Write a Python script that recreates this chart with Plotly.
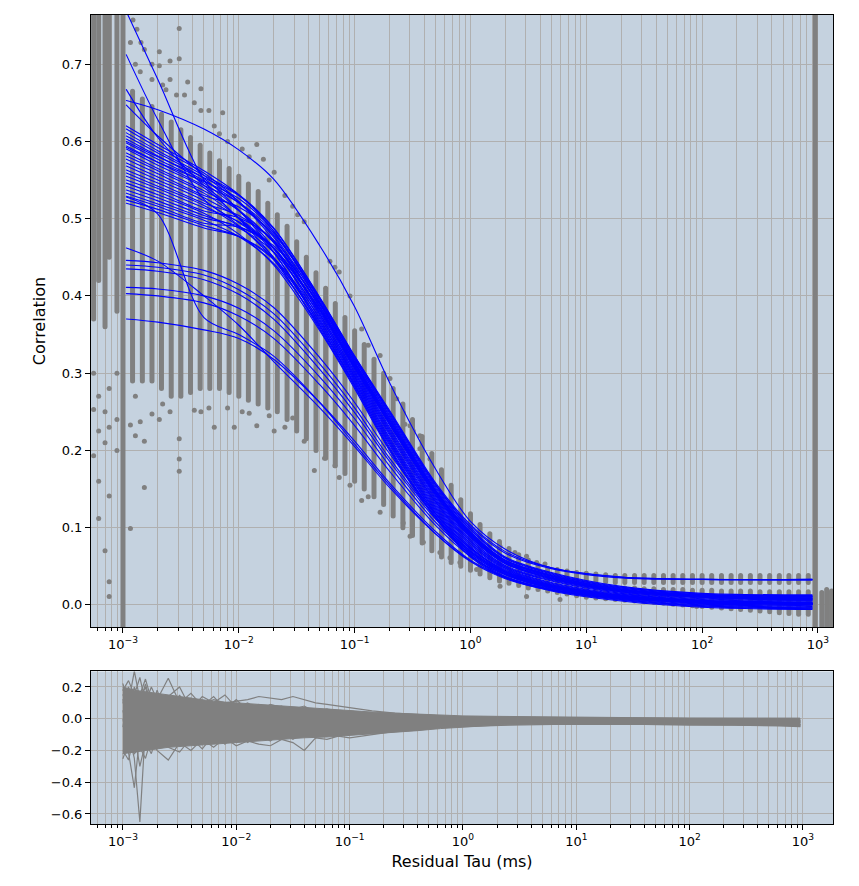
import plotly.graph_objects as go

# ---------------- data ----------------
# fitted model curves, sampled at these lag times (ms)
FIT_TAU = [1.07e-3, 2e-3, 5e-3, 1e-2, 2e-2, 5e-2, 0.1, 0.2, 0.5, 1, 2, 5, 20, 100, 890]

FIT_MAIN = [
    [0.620, 0.596, 0.562, 0.531, 0.484, 0.391, 0.315, 0.241, 0.148, 0.093, 0.057, 0.038, 0.021, 0.012, 0.010],
    [0.616, 0.592, 0.559, 0.522, 0.472, 0.377, 0.302, 0.226, 0.134, 0.082, 0.049, 0.031, 0.015, 0.006, 0.004],
    [0.611, 0.588, 0.556, 0.531, 0.488, 0.398, 0.322, 0.250, 0.155, 0.100, 0.062, 0.042, 0.024, 0.015, 0.013],
    [0.607, 0.585, 0.552, 0.511, 0.457, 0.362, 0.287, 0.209, 0.119, 0.069, 0.040, 0.022, 0.008, 0.000, -0.003],
    [0.603, 0.581, 0.549, 0.520, 0.476, 0.385, 0.309, 0.235, 0.142, 0.088, 0.054, 0.035, 0.018, 0.010, 0.007],
    [0.598, 0.577, 0.546, 0.511, 0.462, 0.370, 0.295, 0.217, 0.127, 0.075, 0.044, 0.026, 0.012, 0.003, 0.001],
    [0.594, 0.573, 0.543, 0.521, 0.482, 0.394, 0.318, 0.246, 0.151, 0.097, 0.060, 0.040, 0.022, 0.013, 0.011],
    [0.590, 0.569, 0.540, 0.500, 0.449, 0.357, 0.282, 0.202, 0.114, 0.064, 0.036, 0.019, 0.006, -0.002, -0.005],
    [0.585, 0.565, 0.536, 0.511, 0.469, 0.381, 0.306, 0.230, 0.138, 0.085, 0.051, 0.033, 0.017, 0.008, 0.006],
    [0.581, 0.562, 0.533, 0.501, 0.456, 0.366, 0.291, 0.213, 0.123, 0.072, 0.042, 0.024, 0.010, 0.002, -0.001],
    [0.577, 0.558, 0.530, 0.515, 0.480, 0.396, 0.320, 0.248, 0.153, 0.098, 0.061, 0.041, 0.023, 0.014, 0.012],
    [0.572, 0.554, 0.527, 0.501, 0.461, 0.374, 0.298, 0.222, 0.131, 0.079, 0.047, 0.028, 0.013, 0.005, 0.002],
    [0.568, 0.550, 0.523, 0.491, 0.447, 0.359, 0.284, 0.204, 0.116, 0.065, 0.037, 0.020, 0.007, -0.001, -0.004],
    [0.563, 0.546, 0.520, 0.504, 0.470, 0.387, 0.311, 0.237, 0.144, 0.090, 0.055, 0.036, 0.019, 0.010, 0.008],
    [0.559, 0.542, 0.517, 0.490, 0.450, 0.364, 0.289, 0.211, 0.121, 0.070, 0.041, 0.023, 0.009, 0.001, -0.002],
    [0.555, 0.539, 0.514, 0.496, 0.462, 0.379, 0.304, 0.228, 0.136, 0.083, 0.050, 0.032, 0.016, 0.007, 0.005],
    [0.550, 0.535, 0.510, 0.501, 0.472, 0.392, 0.317, 0.244, 0.149, 0.095, 0.058, 0.039, 0.022, 0.013, 0.011],
    [0.546, 0.531, 0.507, 0.480, 0.440, 0.355, 0.280, 0.200, 0.112, 0.062, 0.035, 0.018, 0.005, -0.003, -0.006],
    [0.542, 0.527, 0.504, 0.488, 0.457, 0.376, 0.300, 0.224, 0.133, 0.080, 0.048, 0.029, 0.014, 0.006, 0.003],
    [0.537, 0.523, 0.501, 0.490, 0.462, 0.383, 0.307, 0.233, 0.140, 0.087, 0.053, 0.034, 0.017, 0.009, 0.006],
    [0.533, 0.519, 0.498, 0.477, 0.442, 0.361, 0.285, 0.207, 0.118, 0.067, 0.039, 0.021, 0.007, -0.001, -0.004],
    [0.529, 0.516, 0.494, 0.489, 0.465, 0.389, 0.313, 0.239, 0.146, 0.092, 0.056, 0.037, 0.020, 0.011, 0.009],
    [0.524, 0.512, 0.491, 0.477, 0.447, 0.368, 0.293, 0.215, 0.125, 0.074, 0.043, 0.025, 0.011, 0.002, 0.000],
    [0.520, 0.508, 0.488, 0.477, 0.449, 0.372, 0.296, 0.220, 0.129, 0.077, 0.046, 0.027, 0.012, 0.004, 0.001],
]
FIT_UPPER = [
    [0.600, 0.580, 0.553, 0.530, 0.487, 0.398, 0.322, 0.252, 0.158, 0.104, 0.069, 0.048, 0.036, 0.033, 0.033],
    [0.592, 0.573, 0.548, 0.526, 0.484, 0.396, 0.320, 0.250, 0.156, 0.102, 0.067, 0.047, 0.035, 0.033, 0.032],
    [0.653, 0.641, 0.616, 0.589, 0.551, 0.465, 0.386, 0.288, 0.176, 0.108, 0.072, 0.048, 0.036, 0.033, 0.033],
]
FIT_STEEP = [
    [0.768, 0.680, 0.550, 0.500, 0.462, 0.382, 0.308, 0.235, 0.142, 0.089, 0.054, 0.034, 0.018, 0.010, 0.007],
    [0.712, 0.628, 0.525, 0.495, 0.462, 0.382, 0.308, 0.236, 0.144, 0.091, 0.055, 0.035, 0.019, 0.011, 0.008],
    [0.667, 0.605, 0.543, 0.510, 0.470, 0.386, 0.311, 0.239, 0.146, 0.092, 0.057, 0.037, 0.020, 0.012, 0.009],
    [0.647, 0.607, 0.556, 0.522, 0.478, 0.390, 0.314, 0.242, 0.148, 0.094, 0.058, 0.038, 0.020, 0.012, 0.009],
    [0.528, 0.506, 0.372, 0.350, 0.322, 0.262, 0.208, 0.155, 0.092, 0.056, 0.034, 0.019, 0.008, 0.003, 0.001],
]
FIT_LOWER = [
    [0.462, 0.445, 0.400, 0.362, 0.315, 0.255, 0.205, 0.152, 0.092, 0.057, 0.035, 0.020, 0.009, 0.004, 0.002],
    [0.446, 0.443, 0.433, 0.415, 0.385, 0.320, 0.262, 0.196, 0.118, 0.073, 0.045, 0.026, 0.012, 0.005, 0.003],
    [0.440, 0.437, 0.427, 0.408, 0.377, 0.312, 0.255, 0.190, 0.114, 0.070, 0.043, 0.025, 0.011, 0.005, 0.002],
    [0.435, 0.432, 0.421, 0.402, 0.370, 0.305, 0.249, 0.186, 0.111, 0.068, 0.042, 0.024, 0.011, 0.004, 0.002],
    [0.411, 0.409, 0.400, 0.384, 0.355, 0.295, 0.241, 0.180, 0.107, 0.066, 0.040, 0.023, 0.010, 0.004, 0.002],
    [0.403, 0.400, 0.391, 0.374, 0.345, 0.285, 0.232, 0.173, 0.103, 0.063, 0.039, 0.022, 0.010, 0.004, 0.001],
    [0.370, 0.366, 0.356, 0.345, 0.318, 0.262, 0.212, 0.158, 0.095, 0.058, 0.036, 0.020, 0.009, 0.004, 0.001],
]

# measured correlation points: dense columns per lag time (low / high of the packed dots)
COL_TAU = [1.21e-3, 1.47e-3, 1.78e-3, 2.15e-3, 2.61e-3, 3.16e-3, 3.83e-3, 4.64e-3, 5.62e-3, 6.81e-3, 8.25e-3,
           1.00e-2, 1.21e-2, 1.47e-2, 1.78e-2, 2.15e-2, 2.61e-2, 3.16e-2, 3.83e-2, 4.64e-2, 5.62e-2, 6.81e-2, 8.25e-2,
           0.100, 0.121, 0.147, 0.178, 0.215, 0.261, 0.316, 0.383, 0.464, 0.562, 0.681, 0.825,
           1.00, 1.21, 1.47, 1.78, 2.15, 2.61, 3.16, 3.83, 4.64, 5.62, 6.81, 8.25,
           10.0, 12.1, 14.7, 17.8, 21.5, 26.1, 31.6, 38.3, 46.4, 56.2, 68.1, 82.5,
           100, 121, 147, 178, 215, 261, 316, 383, 464, 562, 681, 825]
COL_HI = [0.665, 0.655, 0.645, 0.635, 0.625, 0.615, 0.605, 0.595, 0.585, 0.575, 0.565,
          0.555, 0.545, 0.535, 0.520, 0.505, 0.490, 0.470, 0.450, 0.430, 0.410, 0.390, 0.372,
          0.355, 0.337, 0.318, 0.300, 0.280, 0.260, 0.240, 0.218, 0.196, 0.175, 0.155, 0.136,
          0.118, 0.104, 0.092, 0.082, 0.073, 0.065, 0.058, 0.052, 0.047, 0.035, 0.031, 0.028,
          0.026, 0.025, 0.024, 0.023, 0.022, 0.022, 0.021, 0.021, 0.020, 0.020, 0.020, 0.019,
          0.019, 0.019, 0.018, 0.018, 0.018, 0.018, 0.017, 0.017, 0.017, 0.017, 0.017, 0.017]
COL_LO = [0.290, 0.290, 0.290, 0.280, 0.270, 0.270, 0.275, 0.280, 0.280, 0.280, 0.275,
          0.270, 0.265, 0.260, 0.255, 0.250, 0.240, 0.225, 0.215, 0.200, 0.190, 0.180, 0.170,
          0.160, 0.150, 0.140, 0.130, 0.115, 0.100, 0.090, 0.080, 0.070, 0.062, 0.055, 0.050,
          0.045, 0.040, 0.035, 0.031, 0.028, 0.025, 0.022, 0.020, 0.018, 0.016, 0.014, 0.012,
          0.010, 0.009, 0.008, 0.007, 0.006, 0.005, 0.004, 0.003, 0.002, 0.001, 0.000, -0.001,
          -0.002, -0.003, -0.004, -0.005, -0.006, -0.007, -0.008, -0.009, -0.010, -0.011, -0.012, -0.012]

# points of the curve with the high plateau (long lag times)
TOPG_TAU = [5.62, 6.81, 8.25, 10.0, 12.1, 14.7, 17.8, 21.5, 26.1, 31.6, 38.3, 46.4, 56.2, 68.1,
            82.5, 100, 121, 147, 178, 215, 261, 316, 383, 464, 562, 681, 825]
TOPG_LO = [0.037, 0.035, 0.034, 0.032, 0.031, 0.030, 0.029, 0.029, 0.029, 0.029, 0.029, 0.029, 0.029, 0.029,
           0.029, 0.029, 0.029, 0.029, 0.029, 0.029, 0.029, 0.029, 0.029, 0.029, 0.029, 0.029, 0.029]
TOPG_HI = [0.046, 0.044, 0.042, 0.041, 0.040, 0.039, 0.038, 0.038, 0.038, 0.038, 0.038, 0.038, 0.038, 0.038,
           0.038, 0.038, 0.038, 0.038, 0.038, 0.038, 0.038, 0.038, 0.038, 0.038, 0.038, 0.038, 0.038]

# extra columns: before 1e-3, the saturated columns at 1e-3 and ~950, and past 1e3
EDGE_TAU = [5.58e-4, 6.17e-4, 7.0e-4, 7.6e-4, 8.87e-4, 1.0e-3, 948, 1.08e3, 1.19e3, 1.31e3]
EDGE_LO = [0.37, 0.42, 0.36, 0.45, 0.38, -0.05, -0.05, -0.04, -0.04, -0.04]
EDGE_HI = [0.77, 0.77, 0.77, 0.77, 0.77, 0.80, 0.80, 0.016, 0.020, 0.018]

# isolated points
OUT_TAU = [5.58e-4, 5.58e-4, 5.58e-4, 6.17e-4, 6.17e-4, 6.17e-4, 6.17e-4, 7.0e-4, 7.0e-4, 7.0e-4,
           7.6e-4, 7.6e-4, 7.6e-4, 7.6e-4, 7.6e-4, 8.87e-4, 8.87e-4, 8.87e-4,
           1.16e-3, 1.16e-3, 1.28e-3, 1.41e-3, 1.53e-3, 1.53e-3, 1.78e-3, 2.20e-3, 3.06e-3, 3.06e-3,
           3.06e-3, 4.13e-3, 5.52e-3, 6.14e-3, 9.14e-3, 1.23e-2, 1.43e-2, 1.83e-2, 2.02e-2, 2.92e-2,
           3.67e-2, 4.49e-2, 6.76e-2, 9.12e-2, 0.115, 0.131, 0.166,
           1.16e-3, 1.22e-3, 1.32e-3, 1.43e-3, 1.53e-3, 2.06e-3, 2.06e-3, 2.20e-3, 2.35e-3, 2.55e-3,
           3.06e-3, 3.06e-3, 3.62e-3, 4.71e-3, 5.52e-3, 7.26e-3, 9.14e-3, 1.43e-2, 1.63e-2, 2.02e-2,
           2.92e-2, 3.22e-2, 3.67e-2, 6.12e-2, 6.76e-2, 7.36e-2, 9.12e-2, 0.115, 0.131, 0.166,
           0.202, 0.231, 0.263, 0.272, 0.301, 0.321, 0.366, 0.366, 0.447,
           1.80, 2.42, 3.05, 3.73, 4.40,
           0.263, 0.301, 0.392, 0.545, 0.665, 0.811, 1.13, 1.80, 3.05, 5.93, 89.7,
           1.28e-3, 1.41e-3, 1.78e-3, 1.78e-3, 2.55e-3, 2.90e-3, 3.40e-3, 4.13e-3, 4.71e-3, 6.14e-3,
           6.80e-3, 8.00e-3, 1.07e-2, 1.23e-2, 1.83e-2, 2.50e-2,
           1.28e-3, 2.06e-3, 2.55e-3, 4.71e-3, 8.00e-3, 1.07e-2, 2.50e-2, 5.50e-2, 7.36e-2]
OUT_G = [0.300, 0.253, 0.193, 0.270, 0.225, 0.160, 0.112, 0.250, 0.210, 0.070,
         0.280, 0.230, 0.141, 0.030, 0.011, 0.300, 0.240, 0.200,
         0.099, 0.233, 0.219, 0.237, 0.212, 0.152, 0.247, 0.260, 0.215, 0.189,
         0.173, 0.252, 0.255, 0.230, 0.230, 0.248, 0.232, 0.245, 0.225, 0.242,
         0.212, 0.174, 0.180, 0.155, 0.135, 0.140, 0.120,
         0.728, 0.757, 0.745, 0.728, 0.719, 0.716, 0.698, 0.673, 0.667, 0.704,
         0.746, 0.707, 0.677, 0.668, 0.640, 0.637, 0.607, 0.596, 0.577, 0.560,
         0.516, 0.505, 0.496, 0.445, 0.437, 0.431, 0.400, 0.357, 0.336, 0.323,
         0.293, 0.267, 0.249, 0.234, 0.232, 0.225, 0.219, 0.202, 0.189,
         0.076, 0.068, 0.063, 0.055, 0.053,
         0.106, 0.089, 0.081, 0.068, 0.061, 0.055, 0.046, 0.024, 0.011, 0.007, -0.002,
         0.700, 0.690, 0.700, 0.680, 0.680, 0.660, 0.660, 0.650, 0.640, 0.620,
         0.610, 0.600, 0.590, 0.580, 0.550, 0.530,
         0.270, 0.240, 0.250, 0.250, 0.255, 0.250, 0.230, 0.190, 0.165]

# residuals: envelope of the packed residual traces
RES_ENV_TAU = [1.00e-3, 1.12e-3, 1.26e-3, 1.41e-3, 1.58e-3, 2.00e-3, 2.51e-3, 3.16e-3, 3.98e-3, 5.01e-3,
               6.31e-3, 7.94e-3, 1.00e-2, 1.58e-2, 2.51e-2, 3.98e-2, 6.31e-2, 0.100, 0.158, 0.251,
               0.398, 0.631, 1.00, 2.00, 3.98, 10.0, 31.6, 100, 316, 940]
RES_ENV_HI = [0.200, 0.190, 0.180, 0.175, 0.170, 0.160, 0.150, 0.140, 0.130, 0.120,
              0.110, 0.105, 0.100, 0.090, 0.080, 0.070, 0.060, 0.050, 0.042, 0.035,
              0.028, 0.022, 0.018, 0.015, 0.012, 0.009, 0.007, 0.005, 0.004, 0.004]
RES_ENV_LO = [-0.220, -0.215, -0.210, -0.205, -0.200, -0.190, -0.180, -0.175, -0.170, -0.165,
              -0.160, -0.155, -0.150, -0.140, -0.130, -0.120, -0.115, -0.105, -0.095, -0.085,
              -0.075, -0.062, -0.052, -0.040, -0.034, -0.033, -0.034, -0.036, -0.039, -0.043]

# individual residual traces
RES_TAU = [1.00e-3, 1.12e-3, 1.26e-3, 1.41e-3, 1.58e-3, 1.78e-3, 2.00e-3, 2.51e-3, 3.16e-3, 3.98e-3,
           5.01e-3, 6.31e-3, 7.94e-3, 1.00e-2, 1.26e-2, 1.58e-2, 2.00e-2, 2.51e-2, 3.16e-2, 3.98e-2,
           5.01e-2, 6.31e-2, 7.94e-2, 0.100, 0.158, 0.251, 0.398, 0.631, 1.00, 2.51,
           6.31, 15.8, 39.8, 100, 251, 631, 940]
RES_LINES = [
    [0.05, -0.10, -0.25, -0.65, -0.05, 0.08, -0.02, 0.06, -0.08, 0.04, -0.05, 0.03, -0.06, 0.02, -0.04, 0.03, -0.05, 0.01, -0.03, 0.02,
     -0.04, 0.0, -0.03, 0.01, -0.02, -0.01, -0.03, -0.02, -0.02, -0.015, -0.02, -0.02, -0.025, -0.02, -0.03, -0.03, -0.035],
    [0.0, -0.20, -0.435, -0.10, 0.10, -0.05, 0.12, -0.08, 0.06, -0.10, 0.05, -0.07, 0.04, -0.09, 0.03, -0.06, 0.02, -0.05, 0.01, -0.06,
     0.0, -0.04, 0.01, -0.05, -0.03, -0.02, -0.04, -0.03, -0.03, -0.02, -0.02, -0.025, -0.03, -0.03, -0.035, -0.04, -0.045],
    [0.22, 0.10, 0.30, 0.12, 0.20, 0.05, 0.18, 0.0, 0.15, 0.02, 0.10, 0.05, 0.08, 0.03, 0.07, 0.0, 0.05, 0.02, 0.04, 0.0,
     0.03, 0.01, 0.02, 0.0, 0.01, 0.0, 0.005, 0.0, 0.0, 0.0, 0.0, -0.005, -0.01, -0.01, -0.01, -0.012, -0.015],
    [0.15, 0.05, 0.20, 0.10, 0.22, 0.08, 0.16, 0.12, 0.10, 0.13, 0.09, 0.12, 0.10, 0.11, 0.12, 0.14, 0.13, 0.12, 0.14, 0.12,
     0.10, 0.09, 0.08, 0.07, 0.05, 0.035, 0.025, 0.018, 0.012, 0.008, 0.005, 0.004, 0.003, 0.002, 0.0, -0.005, -0.01],
    [-0.25, -0.15, -0.22, -0.18, -0.25, -0.12, -0.20, -0.26, -0.15, -0.20, -0.13, -0.18, -0.12, -0.17, -0.14, -0.16, -0.17, -0.13, -0.15, -0.20,
     -0.12, -0.13, -0.11, -0.12, -0.10, -0.08, -0.07, -0.055, -0.05, -0.04, -0.035, -0.035, -0.036, -0.04, -0.04, -0.045, -0.05],
    [0.18, 0.24, 0.15, 0.26, 0.10, 0.20, 0.12, 0.255, 0.10, 0.16, 0.08, 0.14, 0.06, 0.12, 0.05, 0.09, 0.06, 0.08, 0.04, 0.07,
     0.05, 0.06, 0.03, 0.05, 0.03, 0.02, 0.015, 0.01, 0.008, 0.005, 0.003, 0.0, -0.005, -0.008, -0.01, -0.015, -0.02],
    [-0.20, -0.26, -0.10, -0.30, -0.15, -0.22, -0.10, -0.18, -0.21, -0.12, -0.19, -0.10, -0.16, -0.09, -0.15, -0.10, -0.14, -0.08, -0.13, -0.09,
     -0.12, -0.07, -0.10, -0.08, -0.07, -0.06, -0.05, -0.045, -0.04, -0.03, -0.03, -0.032, -0.035, -0.035, -0.04, -0.04, -0.045],
    [0.10, 0.20, 0.05, 0.15, 0.25, 0.12, 0.08, 0.14, 0.20, 0.06, 0.14, 0.10, 0.15, 0.07, 0.10, 0.05, 0.09, 0.07, 0.06, 0.08,
     0.04, 0.06, 0.05, 0.04, 0.03, 0.02, 0.012, 0.01, 0.005, 0.0, -0.005, -0.01, -0.012, -0.015, -0.015, -0.02, -0.025],
    [-0.05, 0.15, -0.15, 0.05, -0.20, 0.10, -0.12, 0.02, -0.10, 0.08, -0.08, 0.0, -0.10, 0.05, -0.06, 0.02, -0.08, 0.03, -0.05, 0.0,
     -0.06, 0.02, -0.04, 0.0, -0.02, -0.03, -0.01, -0.02, -0.01, -0.015, -0.02, -0.015, -0.02, -0.025, -0.025, -0.03, -0.035],
    [0.12, -0.05, 0.08, -0.12, 0.05, -0.15, 0.06, -0.10, 0.05, -0.14, 0.02, -0.10, 0.0, -0.12, 0.04, -0.08, 0.01, -0.09, 0.03, -0.07,
     0.0, -0.08, 0.0, -0.06, -0.04, -0.01, -0.045, -0.01, -0.035, -0.01, -0.025, -0.03, -0.02, -0.03, -0.02, -0.035, -0.04],
]

# tick labels
X_TICK_VALS = [1e-3, 1e-2, 1e-1, 1, 10, 100, 1000]
X_TICK_TEXT = ["10<sup>\u22123</sup>", "10<sup>\u22122</sup>", "10<sup>\u22121</sup>", "10<sup>0</sup>",
               "10<sup>1</sup>", "10<sup>2</sup>", "10<sup>3</sup>"]

# ---------------- styling ----------------
GRAY = "#808080"
BLUE = "#0000ff"
GRID = "#b0b0b0"
BG = "#c5d2df"
FONT = "DejaVu Sans"
MINOR_TICKS = [m * 10.0 ** e for e in range(-4, 4) for m in range(2, 10)]


def segments(xs, los, his):
    X, Y = [], []
    for x, lo, hi in zip(xs, los, his):
        X += [x, x, None]
        Y += [lo, hi, None]
    return X, Y


fig = go.Figure()

for xs, los, his in [(COL_TAU, COL_LO, COL_HI), (TOPG_TAU, TOPG_LO, TOPG_HI), (EDGE_TAU, EDGE_LO, EDGE_HI)]:
    sx, sy = segments(xs, los, his)
    fig.add_trace(go.Scatter(x=sx, y=sy, mode="lines", line=dict(color=GRAY, width=5),
                             hoverinfo="skip", xaxis="x", yaxis="y"))

fig.add_trace(go.Scatter(x=OUT_TAU, y=OUT_G, mode="markers",
                         marker=dict(color=GRAY, size=5, line=dict(width=0)),
                         xaxis="x", yaxis="y"))

for group in (FIT_LOWER, FIT_MAIN, FIT_STEEP, FIT_UPPER):
    for row in group:
        fig.add_trace(go.Scatter(x=FIT_TAU, y=row, mode="lines",
                                 line=dict(color=BLUE, width=1.1, shape="spline", smoothing=0.9),
                                 xaxis="x", yaxis="y"))

# residual panel
fig.add_trace(go.Scatter(x=RES_ENV_TAU + RES_ENV_TAU[::-1], y=RES_ENV_HI + RES_ENV_LO[::-1],
                         mode="lines", fill="toself", fillcolor=GRAY, line=dict(color=GRAY, width=1),
                         hoverinfo="skip", xaxis="x2", yaxis="y2"))
for row in RES_LINES:
    fig.add_trace(go.Scatter(x=RES_TAU, y=row, mode="lines", line=dict(color=GRAY, width=1.2),
                             xaxis="x2", yaxis="y2"))

axis_common = dict(showline=True, linecolor="black", linewidth=1, mirror=True,
                   ticks="outside", ticklen=5, tickcolor="black", tickwidth=1,
                   showgrid=True, gridcolor=GRID, gridwidth=1, zeroline=False,
                   tickfont=dict(family=FONT, size=13, color="black"))
xlog = dict(type="log", tickmode="array", tickvals=X_TICK_VALS, ticktext=X_TICK_TEXT,
            minor=dict(tickmode="array", tickvals=MINOR_TICKS, showgrid=True, gridcolor=GRID,
                       gridwidth=1, ticks="outside", ticklen=3, tickcolor="black"))

fig.update_layout(
    width=859, height=886,
    margin=dict(l=91, r=26, t=15, b=62),
    paper_bgcolor="white", plot_bgcolor=BG,
    showlegend=False,
    font=dict(family=FONT, size=13, color="black"),
    xaxis=dict(**axis_common, **xlog, range=[-3.276, 3.13], domain=[0, 1], anchor="y"),
    yaxis=dict(**axis_common, range=[-0.0286, 0.7636], domain=[0.2435, 1.0], anchor="x",
               dtick=0.1, tick0=0, tickformat=".1f",
               title=dict(text="Correlation", font=dict(family=FONT, size=16, color="black"), standoff=12)),
    xaxis2=dict(**axis_common, **xlog, range=[-3.282, 3.265], domain=[0, 1], anchor="y2",
                title=dict(text="Residual Tau (ms)", font=dict(family=FONT, size=16, color="black"), standoff=8)),
    yaxis2=dict(**axis_common, range=[-0.663, 0.298], domain=[0, 0.1886], anchor="x2",
                dtick=0.2, tick0=0, tickformat=".1f"),
)

POST = ("document.body.style.margin='0px';"
        "var s=document.createElement('style');"
        "s.innerHTML='.scatterlayer .js-line{stroke-linecap:round;}';"
        "document.head.appendChild(s);")
fig.write_html("out.html", config={"displayModeBar": False}, post_script=POST)
